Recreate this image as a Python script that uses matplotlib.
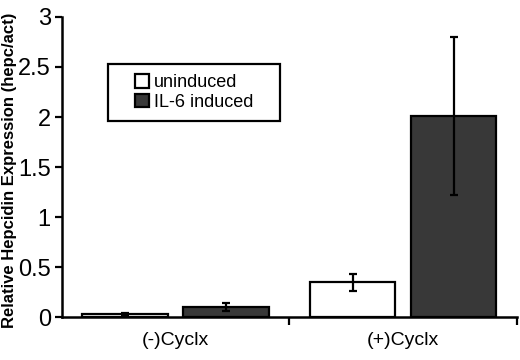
import matplotlib
matplotlib.use("Agg")
import matplotlib.pyplot as plt
from matplotlib.patches import Rectangle
import numpy as np

plt.rcParams['font.family'] = ['Liberation Sans', 'DejaVu Sans']

categories = ["(-)Cyclx", "(+)Cyclx"]
series = ["uninduced", "IL-6 induced"]
uninduced = [0.03, 0.35]
uninduced_err = [0.012, 0.085]
il6 = [0.10, 2.01]
il6_err = [0.04, 0.79]
yticks = [0, 0.5, 1, 1.5, 2, 2.5, 3]
ytick_labels = ["0", "0.5", "1", "1.5", "2", "2.5", "3"]

fig = plt.figure(figsize=(5.2, 3.6), dpi=100)
ax = fig.add_axes([0.119, 0.119, 0.875, 0.834])

x = np.arange(len(categories))
w = 0.375
off = 0.222
ekw = dict(elinewidth=1.6, capthick=1.6, ecolor='black')
ax.bar(x - off, uninduced, w, yerr=uninduced_err, capsize=3, color='white',
       edgecolor='black', linewidth=1.6, error_kw=ekw, label=series[0], zorder=2)
ax.bar(x + off, il6, w, yerr=il6_err, capsize=3, color='#383838',
       edgecolor='black', linewidth=1.6, error_kw=ekw, label=series[1], zorder=2)

ax.set_xlim(-0.5, 1.5)
ax.set_ylim(0, 3)
ax.set_yticks(yticks)
ax.set_yticklabels(ytick_labels, fontsize=17)
ax.set_xticks([0.5, 1.5])
ax.set_xticklabels([])
ax.set_xticks(x, minor=True)
ax.set_xticklabels(categories, minor=True, fontsize=14)
ax.tick_params(axis='x', which='minor', length=0, pad=11)
ax.tick_params(axis='x', which='major', length=6, width=1.6, direction='out')
ax.tick_params(axis='y', length=5, width=1.6, direction='out', pad=3)

for s in ['top', 'right']:
    ax.spines[s].set_visible(False)
for s in ['left', 'bottom']:
    ax.spines[s].set_linewidth(1.8)

ax.set_ylabel("Relative Hepcidin Expression (hepc/act)", fontsize=12, fontweight='bold')
ax.yaxis.set_label_coords(-0.099, 0.49)

# legend frame
ax.add_patch(Rectangle((0.101, 0.655), 0.378, 0.187, transform=ax.transAxes,
                       facecolor='white', edgecolor='black', linewidth=1.6,
                       zorder=3, clip_on=False))
leg = ax.legend(loc='center', bbox_to_anchor=(0.29, 0.7485), fontsize=13,
                frameon=False, handlelength=0.78, handleheight=0.78,
                handletextpad=0.28, borderpad=0, labelspacing=0.15,
                borderaxespad=0)
leg.set_zorder(4)

fig.savefig("out.png", dpi=100)
